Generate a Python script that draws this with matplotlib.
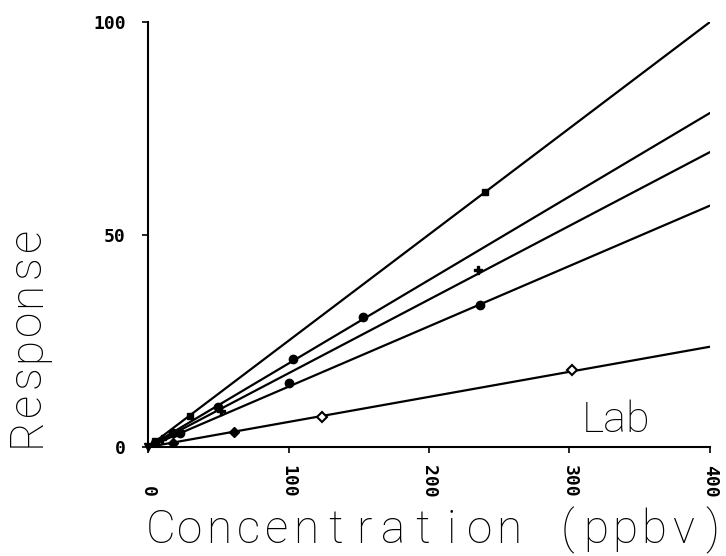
import matplotlib.pyplot as plt
import numpy as np
import matplotlib.transforms as mtransforms

# fitted slopes of the five calibration lines (response per ppbv)
slopes = [0.25, 0.1965, 0.1735, 0.142, 0.059]

# measured points for each line
s1_x = [5, 30, 240]
s1_y = [1.4, 7.4, 60.0]
s2_x = [18, 50, 103, 153]
s2_y = [3.4, 9.5, 20.7, 30.6]
s3_x = [10, 52, 235]
s3_y = [2.0, 8.5, 41.6]
s4_x = [5, 23, 100, 236]
s4_y = [1.0, 3.2, 15.0, 33.4]
s5_x = [18, 61]
s5_y = [1.0, 3.5]
s5_open_x = [124, 302]
s5_open_y = [7.1, 18.1]

x_ticks = [0, 100, 200, 300, 400]
y_ticks = [0, 50, 100]
x_label = 'Concentration (ppbv)'
y_label = 'Response'
tick_font = 'DejaVu Sans Mono'
label_font = 'Roboto'

fig = plt.figure(figsize=(7.26, 5.56), dpi=100)
ax = fig.add_axes([0.2039, 0.196, 0.774, 0.7644])

xs = np.array([0, 400])
for k in slopes:
    ax.plot(xs, k * xs, color='black', lw=1.6, solid_capstyle='round')

ax.plot(s1_x, s1_y, ls='none', marker='s', ms=5, color='black')
ax.plot(s2_x, s2_y, ls='none', marker='o', ms=6, color='black')
ax.plot(s3_x, s3_y, ls='none', marker='P', ms=6, color='black')
ax.plot(s4_x, s4_y, ls='none', marker='o', ms=6, color='black')
ax.plot(s5_x, s5_y, ls='none', marker='D', ms=5, color='black')
ax.plot(s5_open_x, s5_open_y, ls='none', marker='D', ms=5,
        mfc='white', mec='black', mew=1.5)
ax.plot([0], [0], ls='none', marker='v', ms=6, color='black', clip_on=False)

ax.set_xlim(0, 400)
ax.set_ylim(0, 100)
ax.spines['top'].set_visible(False)
ax.spines['right'].set_visible(False)
ax.spines['left'].set_linewidth(1.5)
ax.spines['bottom'].set_linewidth(1.5)

ax.set_xticks(x_ticks)
ax.set_xticklabels([])
ax.set_yticks(y_ticks)
ax.set_yticklabels([str(v) for v in y_ticks], fontfamily=tick_font,
                   fontweight='bold', fontsize=13)
ax.tick_params(axis='both', direction='out', length=4, width=1.2, pad=12)

# x tick labels rotated, bottom aligned
trans = mtransforms.blended_transform_factory(ax.transData, ax.transAxes)
for v in x_ticks:
    ax.text(v, -0.118, str(v), transform=trans, rotation=-90, ha='center',
            va='bottom', fontfamily=tick_font, fontweight='bold', fontsize=13)

ax.text(309, 3.5, 'Lab', fontfamily=label_font, fontweight='light',
        fontsize=31)

# plotter style labels: wide, evenly spaced letters
x0, step = 161, 29.0
for i, ch in enumerate(x_label):
    fig.text((x0 + i * step) / 726, 1 - 530 / 556, ch, ha='center',
             va='center', fontfamily=label_font, fontweight='light',
             fontsize=33)
y0, ystep = 432, 27.5
for i, ch in enumerate(y_label):
    fig.text(27 / 726, 1 - (y0 - i * ystep) / 556, ch, rotation=90,
             ha='center', va='center', fontfamily=label_font,
             fontweight='light', fontsize=33)

fig.savefig('out.png', dpi=100)
